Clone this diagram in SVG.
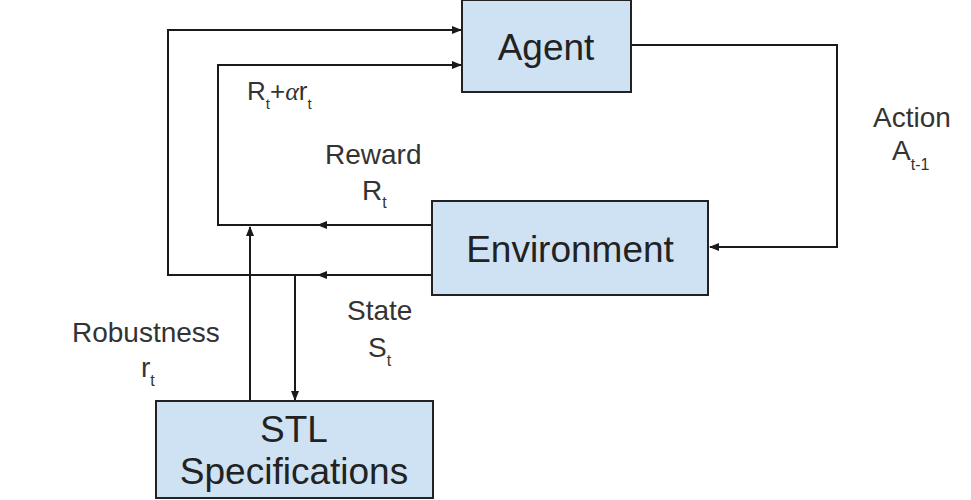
<svg xmlns="http://www.w3.org/2000/svg" width="971" height="500" viewBox="0 0 971 500">
<defs>
<marker id="ah" viewBox="0 0 10 10" refX="9" refY="5" markerWidth="5" markerHeight="5" orient="auto" markerUnits="strokeWidth">
<path d="M0,1 L10,5 L0,9 z" fill="#1a1a1a"/>
</marker>
<style>
.box{fill:#cfe2f3;stroke:#222;stroke-width:2}
.ln{fill:none;stroke:#1a1a1a;stroke-width:2}
.big{font-family:"Liberation Sans",Arial,sans-serif;font-size:37px;fill:#222;text-anchor:middle}
.lbl{font-family:"Liberation Sans",Arial,sans-serif;font-size:28px;fill:#333}
.sub{font-size:16px}
.rl{font-size:26px}
.rs{font-size:15px}
</style>
</defs>
<rect width="971" height="500" fill="#fff"/>
<g id="connectors">
<path class="ln" d="M432,275 L168,275 L168,30 L461,30" marker-end="url(#ah)"/>
<path class="ln" d="M432,275 L318,275" marker-end="url(#ah)"/>
<path class="ln" d="M432,225 L218,225 L218,65 L461,65" marker-end="url(#ah)"/>
<path class="ln" d="M432,225 L318,225" marker-end="url(#ah)"/>
<path class="ln" d="M250,405 L250,227" marker-end="url(#ah)"/>
<path class="ln" d="M295,275 L295,400" marker-end="url(#ah)"/>
<path class="ln" d="M631,45 L837,45 L837,247 L710,247" marker-end="url(#ah)"/>
</g>
<g id="agent">
<rect class="box" x="462" y="0" width="169" height="92"/>
<text class="big" x="546" y="60">Agent</text>
</g>
<g id="environment">
<rect class="box" x="432" y="201" width="276" height="94"/>
<text class="big" x="570" y="262">Environment</text>
</g>
<g id="stl">
<rect class="box" x="156" y="401" width="277" height="97"/>
<text class="big" x="294" y="442">STL</text>
<text class="big" x="294" y="484">Specifications</text>
</g>
<g id="labels">
<text class="lbl rl" x="247" y="100">R<tspan class="rs" dy="9">t</tspan><tspan dy="-9">+</tspan><tspan style="font-family:'Liberation Serif',serif;font-style:italic">α</tspan>r<tspan class="rs" dy="9">t</tspan></text>
<text class="lbl" x="325" y="164">Reward</text>
<text class="lbl" x="362" y="200">R<tspan class="sub" dy="8">t</tspan></text>
<text class="lbl" x="873" y="127">Action</text>
<text class="lbl" x="892" y="160">A<tspan class="sub" dy="10">t-1</tspan></text>
<text class="lbl" x="347" y="320">State</text>
<text class="lbl" x="368" y="357">S<tspan class="sub" dy="9">t</tspan></text>
<text class="lbl" x="72" y="342">Robustness</text>
<text class="lbl" x="141" y="377">r<tspan class="sub" dy="9">t</tspan></text>
</g>
</svg>
